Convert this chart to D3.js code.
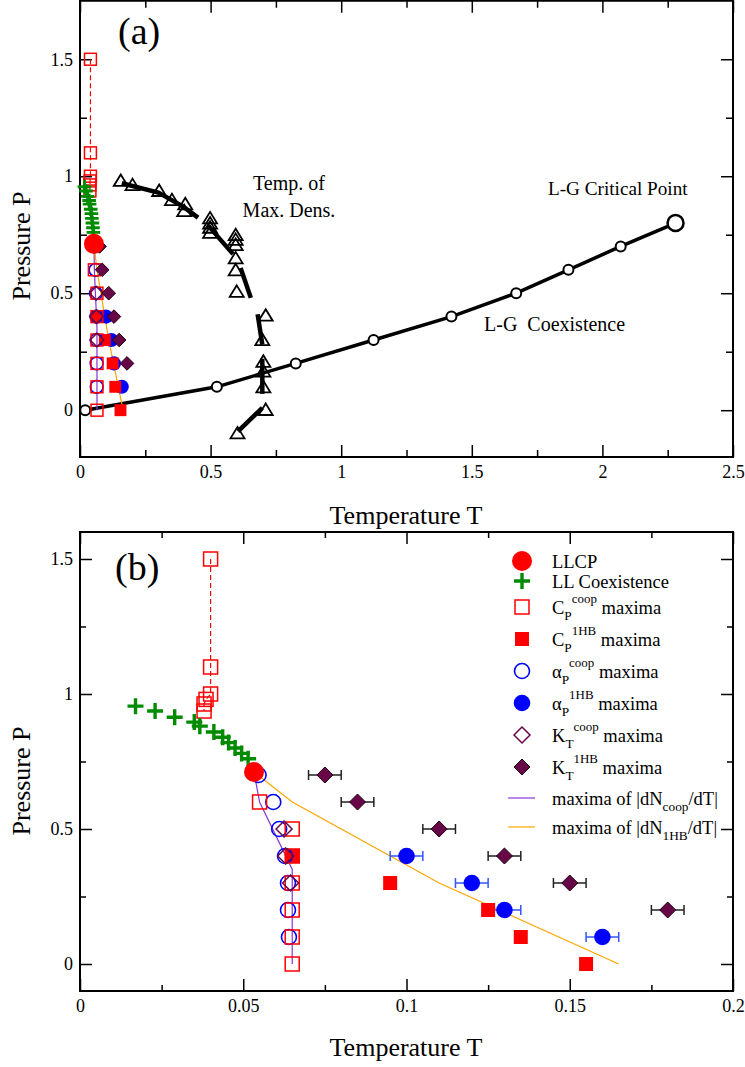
<!DOCTYPE html>
<html><head><meta charset="utf-8">
<script src="https://cdn.jsdelivr.net/npm/d3@7"></script>
<style>body{margin:0;background:#fff}svg{display:block}text{font-family:"Liberation Serif","Times New Roman",serif;fill:#000;white-space:pre}</style>
</head><body><svg id="c" width="745" height="1067"></svg>
<script>
// ---------- DATA ----------
const llcp = [[0.0533, 0.711]];
const llCoex = [[0.017,0.955],[0.023,0.937],[0.029,0.914],[0.035,0.896],[0.0367,0.881],[0.041,0.859],[0.0437,0.84],[0.0455,0.82],[0.0475,0.80],[0.0495,0.78],[0.0515,0.76]];
const cpCoop = [[0.040,1.5],[0.040,1.1],[0.040,1.0],[0.0386,0.98],[0.038,0.963],[0.038,0.937],[0.055,0.6],[0.065,0.5],[0.065,0.4],[0.065,0.3],[0.065,0.2],[0.065,0.1],[0.065,0.0]];
const cpCoopDashed = [[0.040,1.5],[0.040,1.1],[0.040,1.0],[0.0386,0.98],[0.038,0.963],[0.038,0.937]];
const cp1HB = [[0.065,0.4],[0.095,0.3],[0.125,0.2],[0.135,0.1],[0.155,0.0]];
const apCoop = [[0.0547,0.70],[0.0592,0.6],[0.061,0.5],[0.0628,0.4],[0.0637,0.3],[0.0637,0.2],[0.064,0.1]];
const ap1HB = [[0.10,0.4],[0.12,0.3],[0.13,0.2],[0.16,0.1]];
const ap1HBErr = [0.005,0.005,0.005,0.005];
const ktCoop = [[0.0625,0.5],[0.063,0.4],[0.0645,0.3]];
const kt1HB = [[0.075,0.7],[0.085,0.6],[0.11,0.5],[0.13,0.4],[0.15,0.3],[0.18,0.2]];
const kt1HBErr = [0.005,0.005,0.005,0.005,0.005,0.005];
const dNcoopLine = [[0.0533,0.711],[0.055,0.6],[0.065,0.35],[0.065,0.0]];
const dN1HBLine = [[0.0533,0.711],[0.065,0.6],[0.11,0.3],[0.165,0.0]];
const lgCoex = [[0.02,0],[0.524,0.1],[0.826,0.2],[1.124,0.3],[1.422,0.4],[1.67,0.5],[1.87,0.6],[2.07,0.7],[2.28,0.8]];
const lgCritical = [[2.28,0.8]];
const tmdPoints = [[0.156,0.982],[0.201,0.964],[0.303,0.939],[0.352,0.90],[0.403,0.882],[0.399,0.853],[0.498,0.822],[0.498,0.80],[0.498,0.782],[0.498,0.76],[0.596,0.75],[0.596,0.73],[0.596,0.708],[0.596,0.651],[0.596,0.60],[0.60,0.508],[0.711,0.406],[0.698,0.302],[0.702,0.209],[0.702,0.167],[0.702,0.10],[0.711,0.003],[0.603,-0.097]];
const tmdSegments = [
  [[0.16,0.97],[0.30,0.93],[0.395,0.87],[0.452,0.823]],
  [[0.49,0.79],[0.586,0.667]],
  [[0.615,0.608],[0.654,0.48]],
  [[0.68,0.41],[0.698,0.28]],
  [[0.698,0.22],[0.698,0.07]],
  [[0.698,0.01],[0.605,-0.09]]
];
const xTicksA = [0,0.5,1,1.5,2,2.5], xLabelsA = ["0","0.5","1","1.5","2","2.5"];
const xMinorA = [0.25,0.75,1.25,1.75,2.25];
const yTicksA = [0,0.5,1,1.5], yLabelsA = ["0","0.5","1","1.5"];
const yMinorA = [0.25,0.75,1.25];
const xTicksB = [0,0.05,0.1,0.15,0.2], xLabelsB = ["0","0.05","0.1","0.15","0.2"];
const xMinorB = [0.025,0.075,0.125,0.175];
const yTicksB = [0,0.5,1,1.5], yLabelsB = ["0","0.5","1","1.5"];
const yMinorB = [0.25,0.75,1.25];
const legendSymbols = ["llcp","plus","sqOpen","sqFill","cirOpen","cirFill","diaOpen","diaFill","lineViolet","lineOrange"];
const legendLabels = [
  [["LLCP"]],
  [["LL Coexistence"]],
  [["C"],["P","sub"],["coop","sup"],[" maxima"]],
  [["C"],["P","sub"],["1HB","sup"],[" maxima"]],
  [["α"],["P","sub"],["coop","sup"],[" maxima"]],
  [["α"],["P","sub"],["1HB","sup"],[" maxima"]],
  [["K"],["T","sub"],["coop","sup"],[" maxima"]],
  [["K"],["T","sub"],["1HB","sup"],[" maxima"]],
  [["maxima of |dN"],["coop","sub"],["/dT|"]],
  [["maxima of |dN"],["1HB","sub"],["/dT|"]]
];

// ---------- STYLE ----------
const RED="#ff0000", BLUE="#0000ff", GREEN="#008b00", MAROON="#670748", VIOLET="#8a35d0", ORANGE="#ffa500";
const FONT = '"Liberation Serif","Times New Roman",serif';
const svg = d3.select("#c");

function sym(g, type, cx, cy, s) {
  s = s || 1;
  if (type==="llcp") g.append("circle").attr("cx",cx).attr("cy",cy).attr("r",10).attr("fill",RED);
  else if (type==="plus") g.append("path").attr("d",`M${cx-8*s},${cy}H${cx+8*s}M${cx},${cy-8*s}V${cy+8*s}`).attr("stroke",GREEN).attr("stroke-width",3.4*s).attr("fill","none");
  else if (type==="sqOpen") g.append("rect").attr("x",cx-7*s).attr("y",cy-7*s).attr("width",14*s).attr("height",14*s).attr("fill","none").attr("stroke",RED).attr("stroke-width",1.5);
  else if (type==="sqFill") g.append("rect").attr("x",cx-7*s).attr("y",cy-7*s).attr("width",14*s).attr("height",14*s).attr("fill",RED);
  else if (type==="cirOpen") g.append("circle").attr("cx",cx).attr("cy",cy).attr("r",7.5*s).attr("fill","none").attr("stroke",BLUE).attr("stroke-width",1.6);
  else if (type==="cirFill") g.append("circle").attr("cx",cx).attr("cy",cy).attr("r",8.3*s).attr("fill",BLUE);
  else if (type==="diaOpen") g.append("path").attr("d",`M${cx},${cy-8*s}L${cx+8*s},${cy}L${cx},${cy+8*s}L${cx-8*s},${cy}Z`).attr("fill","none").attr("stroke",MAROON).attr("stroke-width",1.5);
  else if (type==="diaFill") g.append("path").attr("d",`M${cx},${cy-8*s}L${cx+8*s},${cy}L${cx},${cy+8*s}L${cx-8*s},${cy}Z`).attr("fill",MAROON).attr("stroke","#200010").attr("stroke-width",1);
  else if (type==="tri") g.append("path").attr("d",`M${cx},${cy-6}L${cx+7},${cy+5.5}L${cx-7},${cy+5.5}Z`).attr("fill","none").attr("stroke","#000").attr("stroke-width",1.8);
  else if (type==="lineViolet") g.append("line").attr("x1",cx-14).attr("x2",cx+13).attr("y1",cy).attr("y2",cy).attr("stroke",VIOLET).attr("stroke-width",1.2);
  else if (type==="lineOrange") g.append("line").attr("x1",cx-14).attr("x2",cx+13).attr("y1",cy).attr("y2",cy).attr("stroke",ORANGE).attr("stroke-width",1.2);
}

function richText(g, x, y, parts, size) {
  const t = g.append("text").attr("x",x).attr("y",y).attr("font-size",size);
  parts.forEach(p => {
    const s = t.append("tspan").text(p[0]);
    if (p[1]==="sub") s.attr("y",y+6).attr("font-size",size*0.72);
    else if (p[1]==="sup") s.attr("y",y-11).attr("font-size",size*0.7);
    else s.attr("y",y);
  });
  return t;
}

function axes(g, x, y, o) {
  const [xl,xr] = x.range(), [yb,yt] = y.range();
  function style(sel){ sel.attr("font-family",FONT).attr("font-size",18); sel.select(".domain").remove(); sel.selectAll("line").attr("stroke","#000").attr("stroke-width",1.5); sel.selectAll("text").attr("fill","#000"); }
  g.append("g").attr("transform",`translate(0,${yb})`).call(d3.axisBottom(x).tickValues(o.xT).tickSize(-12).tickPadding(8).tickFormat((d,i)=>o.xL[i])).call(style);
  g.append("g").attr("transform",`translate(0,${yb})`).call(d3.axisBottom(x).tickValues(o.xM).tickSize(-o.minor).tickFormat("")).call(style);
  g.append("g").attr("transform",`translate(0,${yt})`).call(d3.axisTop(x).tickValues(o.xT).tickSize(-12).tickFormat("")).call(style);
  g.append("g").attr("transform",`translate(0,${yt})`).call(d3.axisTop(x).tickValues(o.xM).tickSize(-o.minor).tickFormat("")).call(style);
  g.append("g").attr("transform",`translate(${xl},0)`).call(d3.axisLeft(y).tickValues(o.yT).tickSize(-12).tickPadding(7).tickFormat((d,i)=>o.yL[i])).call(style);
  g.append("g").attr("transform",`translate(${xl},0)`).call(d3.axisLeft(y).tickValues(o.yM).tickSize(-o.minor).tickFormat("")).call(style);
  g.append("g").attr("transform",`translate(${xr},0)`).call(d3.axisRight(y).tickValues(o.yT).tickSize(-12).tickFormat("")).call(style);
  g.append("g").attr("transform",`translate(${xr},0)`).call(d3.axisRight(y).tickValues(o.yM).tickSize(-o.minor).tickFormat("")).call(style);
  g.append("rect").attr("x",xl).attr("y",yt).attr("width",xr-xl).attr("height",yb-yt).attr("fill","none").attr("stroke","#000").attr("stroke-width",2);
}

function drawLowT(g, x, y, s, withErr) {
  const line = d3.line().x(d=>x(d[0])).y(d=>y(d[1]));
  g.append("path").attr("d",line(cpCoopDashed)).attr("fill","none").attr("stroke",RED).attr("stroke-width",1.2).attr("stroke-dasharray","5,3");
  g.append("path").attr("d",line(dNcoopLine)).attr("fill","none").attr("stroke",VIOLET).attr("stroke-width",1.2);
  g.append("path").attr("d",line(dN1HBLine)).attr("fill","none").attr("stroke",ORANGE).attr("stroke-width",1.2);
  if (withErr) {
    const eb = (data, err, col) => data.forEach((d,i)=>{
      const x1=x(d[0]-err[i]), x2=x(d[0]+err[i]), yy=y(d[1]);
      g.append("path").attr("d",`M${x1},${yy}H${x2}M${x1},${yy-5}V${yy+5}M${x2},${yy-5}V${yy+5}`).attr("stroke",col).attr("stroke-width",1.5).attr("fill","none");
    });
    eb(ap1HB, ap1HBErr, "#3355ff");
    eb(kt1HB, kt1HBErr, "#222");
  }
  ap1HB.forEach(d=>sym(g,"cirFill",x(d[0]),y(d[1]),s));
  cp1HB.forEach(d=>sym(g,"sqFill",x(d[0]),y(d[1]),s));
  apCoop.forEach(d=>sym(g,"cirOpen",x(d[0]),y(d[1]),s));
  cpCoop.forEach(d=>sym(g,"sqOpen",x(d[0]),y(d[1]),s));
  ktCoop.forEach(d=>sym(g,"diaOpen",x(d[0]),y(d[1]),s));
  kt1HB.forEach(d=>sym(g,"diaFill",x(d[0]),y(d[1]),s));
  llCoex.forEach(d=>sym(g,"plus",x(d[0]),y(d[1]),s));
  llcp.forEach(d=>sym(g,"llcp",x(d[0]),y(d[1]),s));
}

// ---------- PANEL A ----------
const xA = d3.scaleLinear().domain([0,2.5]).range([80,733]);
const yA = d3.scaleLinear().domain([-0.2,1.75]).range([457,0.75]);
const gA = svg.append("g");
axes(gA, xA, yA, {xT:xTicksA,xL:xLabelsA,xM:xMinorA,yT:yTicksA,yL:yLabelsA,yM:yMinorA,minor:7});
const lineA = d3.line().x(d=>xA(d[0])).y(d=>yA(d[1]));
tmdPoints.forEach(d=>sym(gA,"tri",xA(d[0]),yA(d[1])));
tmdSegments.forEach(seg=>gA.append("path").attr("d",lineA(seg)).attr("fill","none").attr("stroke","#000").attr("stroke-width",4.5));
gA.append("path").attr("d",lineA(lgCoex)).attr("fill","none").attr("stroke","#000").attr("stroke-width",3.5);
lgCoex.slice(0,-1).forEach(d=>gA.append("circle").attr("cx",xA(d[0])).attr("cy",yA(d[1])).attr("r",5).attr("fill","#fff").attr("stroke","#000").attr("stroke-width",2));
lgCritical.forEach(d=>gA.append("circle").attr("cx",xA(d[0])).attr("cy",yA(d[1])).attr("r",8).attr("fill","#fff").attr("stroke","#000").attr("stroke-width",2.5));
drawLowT(gA, xA, yA, 0.85, false);
gA.append("text").attr("x",118).attr("y",44).attr("font-size",38).text("(a)");
gA.append("text").attr("x",289).attr("y",190).attr("font-size",20).attr("text-anchor","middle").text("Temp. of");
gA.append("text").attr("x",289).attr("y",217).attr("font-size",20).attr("text-anchor","middle").text("Max. Dens.");
gA.append("text").attr("x",548).attr("y",195).attr("font-size",19.2).text("L-G Critical Point");
gA.append("text").attr("x",484).attr("y",331).attr("font-size",20).text("L-G  Coexistence");
gA.append("text").attr("x",406).attr("y",524).attr("font-size",26).attr("text-anchor","middle").text("Temperature T");
gA.append("text").attr("transform","translate(30,246) rotate(-90)").attr("font-size",26).attr("text-anchor","middle").text("Pressure P");

// ---------- PANEL B ----------
const xB = d3.scaleLinear().domain([0,0.2]).range([80,733]);
const yB = d3.scaleLinear().domain([-0.1,1.6]).range([991,532]);
const gB = svg.append("g");
axes(gB, xB, yB, {xT:xTicksB,xL:xLabelsB,xM:xMinorB,yT:yTicksB,yL:yLabelsB,yM:yMinorB,minor:6});
drawLowT(gB, xB, yB, 1, true);
gB.append("text").attr("x",115).attr("y",580).attr("font-size",38).text("(b)");
gB.append("text").attr("x",406).attr("y",1056).attr("font-size",26).attr("text-anchor","middle").text("Temperature T");
gB.append("text").attr("transform","translate(30,781) rotate(-90)").attr("font-size",26).attr("text-anchor","middle").text("Pressure P");

// legend
const legRows = [561,581,607,639,671,703,735,767,798,827];
legendSymbols.forEach((t,i)=>{
  sym(gB, t, 522, legRows[i], 1);
  richText(gB, 552, legRows[i]+6.5, legendLabels[i], 18.5);
});
</script></body></html>
